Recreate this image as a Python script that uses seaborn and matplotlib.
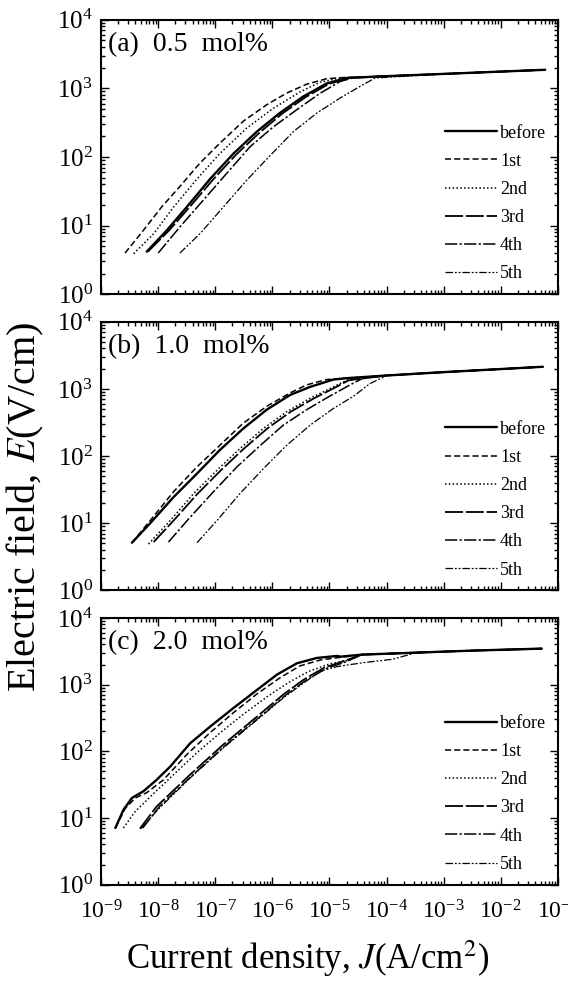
import matplotlib
matplotlib.use("Agg")
import matplotlib.pyplot as plt
import numpy as np
import pandas as pd
import seaborn as sns
from matplotlib.ticker import LogLocator, NullFormatter, LogFormatterSciNotation

runs = ["before", "1st", "2nd", "3rd", "4th", "5th"]
titles = ["(a)  0.5  mol%", "(b)  1.0  mol%", "(c)  2.0  mol%"]

# values, as log10(J) and log10(E)
# panel (a) 0.5 mol%
a_before_logJ = [-8.20, -7.85, -7.50, -7.09, -6.68, -6.27, -5.87, -5.46, -5.05, -4.70]
a_before_logE = [0.62, 0.93, 1.27, 1.68, 2.05, 2.37, 2.64, 2.88, 3.07, 3.15]
a_1st_logJ = [-8.58, -8.26, -7.94, -7.62, -7.27, -6.92, -6.51, -6.10, -5.75, -5.40, -5.05, -4.70]
a_1st_logE = [0.60, 0.93, 1.27, 1.57, 1.91, 2.20, 2.52, 2.76, 2.93, 3.06, 3.14, 3.16]
a_2nd_logJ = [-8.43, -8.08, -7.73, -7.32, -6.92, -6.45, -5.98, -5.51, -5.16, -4.81]
a_2nd_logE = [0.59, 0.88, 1.27, 1.68, 2.05, 2.42, 2.71, 2.95, 3.09, 3.15]
a_3rd_logJ = [-8.18, -7.82, -7.46, -7.05, -6.64, -6.23, -5.83, -5.42, -5.02, -4.66]
a_3rd_logE = [0.62, 0.92, 1.26, 1.66, 2.03, 2.35, 2.63, 2.87, 3.06, 3.15]
a_4th_logJ = [-8.00, -7.62, -7.21, -6.80, -6.39, -5.98, -5.57, -5.16, -4.81, -4.55]
a_4th_logE = [0.60, 0.98, 1.37, 1.76, 2.15, 2.44, 2.69, 2.93, 3.10, 3.16]
a_5th_logJ = [-7.62, -7.27, -6.86, -6.45, -6.04, -5.63, -5.22, -4.81, -4.46, -4.20]
a_5th_logE = [0.60, 0.88, 1.27, 1.66, 2.02, 2.37, 2.64, 2.86, 3.03, 3.15]
a_plateau_logJ = [-4.20, -3.00, -1.22]
a_plateau_logE = [3.17, 3.21, 3.27]

# panel (b) 1.0 mol%
b_before_logJ = [-8.46, -8.14, -7.73, -7.32, -6.92, -6.51, -6.10, -5.69, -5.34, -4.93]
b_before_logE = [0.71, 1.00, 1.39, 1.74, 2.09, 2.41, 2.69, 2.91, 3.03, 3.14]
b_1st_logJ = [-8.46, -8.14, -7.73, -7.32, -6.92, -6.51, -6.10, -5.69, -5.40, -5.05]
b_1st_logE = [0.71, 1.04, 1.47, 1.84, 2.16, 2.49, 2.74, 2.94, 3.06, 3.14]
b_2nd_logJ = [-8.17, -7.79, -7.38, -6.97, -6.57, -6.16, -5.75, -5.34, -4.93, -4.70]
b_2nd_logE = [0.69, 1.04, 1.44, 1.79, 2.11, 2.41, 2.66, 2.86, 3.03, 3.13]
b_3rd_logJ = [-8.08, -7.72, -7.31, -6.90, -6.50, -6.09, -5.68, -5.27, -4.88, -4.66]
b_3rd_logE = [0.72, 1.05, 1.44, 1.79, 2.11, 2.41, 2.66, 2.86, 3.03, 3.13]
b_4th_logJ = [-7.82, -7.44, -7.03, -6.62, -6.21, -5.81, -5.40, -5.00, -4.64, -4.41]
b_4th_logE = [0.72, 1.09, 1.47, 1.84, 2.16, 2.46, 2.69, 2.89, 3.06, 3.16]
b_5th_logJ = [-7.32, -6.97, -6.57, -6.16, -5.75, -5.34, -4.93, -4.58, -4.29, -4.04]
b_5th_logE = [0.71, 1.04, 1.44, 1.81, 2.16, 2.46, 2.71, 2.89, 3.08, 3.18]
b_plateau_logJ = [-4.70, -4.00, -3.00, -1.26]
b_plateau_logE = [3.16, 3.20, 3.25, 3.33]

# panel (c) 2.0 mol%
c_before_logJ = [-8.75, -8.61, -8.46, -8.26, -8.03, -7.79, -7.44, -7.09, -6.68, -6.27, -5.92, -5.57, -5.22, -4.87]
c_before_logE = [0.85, 1.12, 1.30, 1.40, 1.57, 1.77, 2.12, 2.37, 2.65, 2.92, 3.15, 3.32, 3.40, 3.43]
c_1st_logJ = [-8.75, -8.58, -8.40, -8.20, -7.91, -7.50, -7.09, -6.68, -6.27, -5.87, -5.52, -5.16, -4.80]
c_1st_logE = [0.85, 1.14, 1.30, 1.38, 1.57, 1.95, 2.28, 2.58, 2.86, 3.10, 3.28, 3.37, 3.41]
c_2nd_logJ = [-8.61, -8.40, -8.10, -7.73, -7.32, -6.91, -6.50, -6.09, -5.72, -5.36, -5.00, -4.64]
c_2nd_logE = [0.85, 1.10, 1.35, 1.65, 1.98, 2.28, 2.56, 2.82, 3.03, 3.20, 3.31, 3.37]
c_3rd_logJ = [-8.32, -8.03, -7.44, -6.86, -6.27, -5.81, -5.46, -5.10, -4.76]
c_3rd_logE = [0.84, 1.17, 1.65, 2.10, 2.52, 2.85, 3.07, 3.25, 3.35]
c_4th_logJ = [-8.27, -7.98, -7.40, -6.82, -6.23, -5.77, -5.42, -5.06, -4.72]
c_4th_logE = [0.85, 1.17, 1.64, 2.09, 2.51, 2.84, 3.06, 3.24, 3.34]
c_5th_logJ = [-8.30, -8.00, -7.44, -6.86, -6.27, -5.81, -5.46, -5.16, -4.87, -4.40, -3.90]
c_5th_logE = [0.84, 1.13, 1.60, 2.05, 2.47, 2.80, 3.02, 3.20, 3.27, 3.33, 3.38]
c_plateau_logJ = [-4.80, -4.43, -3.47, -2.50, -1.28]
c_plateau_logE = [3.42, 3.45, 3.48, 3.51, 3.54]

panels = {
    "a": ([a_before_logJ, a_1st_logJ, a_2nd_logJ, a_3rd_logJ, a_4th_logJ, a_5th_logJ],
          [a_before_logE, a_1st_logE, a_2nd_logE, a_3rd_logE, a_4th_logE, a_5th_logE],
          a_plateau_logJ, a_plateau_logE),
    "b": ([b_before_logJ, b_1st_logJ, b_2nd_logJ, b_3rd_logJ, b_4th_logJ, b_5th_logJ],
          [b_before_logE, b_1st_logE, b_2nd_logE, b_3rd_logE, b_4th_logE, b_5th_logE],
          b_plateau_logJ, b_plateau_logE),
    "c": ([c_before_logJ, c_1st_logJ, c_2nd_logJ, c_3rd_logJ, c_4th_logJ, c_5th_logJ],
          [c_before_logE, c_1st_logE, c_2nd_logE, c_3rd_logE, c_4th_logE, c_5th_logE],
          c_plateau_logJ, c_plateau_logE),
}

# long-form table: each run follows its own curve and then the shared plateau
rows = []
for key, (js, es, pj, pe) in panels.items():
    for run, lj, le in zip(runs, js, es):
        for x, y in zip(lj, le):
            rows.append((key, run, 10 ** x, 10 ** y))
        for x, y in zip(pj, pe):
            if x > lj[-1]:
                rows.append((key, run, 10 ** x, 10 ** y))
df = pd.DataFrame(rows, columns=["panel", "run", "J", "E"])

line_styles = {
    "before": dict(linestyle="-", linewidth=1.7),
    "1st": dict(linestyle=(0, (4, 2)), linewidth=1.1),
    "2nd": dict(linestyle=(0, (1, 1.5)), linewidth=1.1),
    "3rd": dict(linestyle=(0, (10, 1.5)), linewidth=1.3),
    "4th": dict(linestyle=(0, (8, 1.5, 1.5, 1.5)), linewidth=1.1),
    "5th": dict(linestyle=(0, (6, 1.5, 1.5, 1.5, 1.5, 1.5)), linewidth=0.9),
}

sns.set_style("ticks")
plt.rcParams["font.family"] = ["Liberation Serif", "DejaVu Serif"]
plt.rcParams["mathtext.fontset"] = "stix"
plt.rcParams["axes.unicode_minus"] = False
for k in ["text.color", "axes.labelcolor", "xtick.color", "ytick.color", "axes.edgecolor"]:
    plt.rcParams[k] = "black"

fig = plt.figure(figsize=(5.68, 9.84), dpi=100)
boxes = [(0.178, 0.701, 0.804, 0.279),
         (0.178, 0.400, 0.804, 0.273),
         (0.178, 0.101, 0.804, 0.271)]

for i, (key, box) in enumerate(zip(panels, boxes)):
    ax = fig.add_axes(box)
    sub = df[df["panel"] == key]
    for run in runs:
        d = sub[sub["run"] == run]
        sns.lineplot(data=d, x="J", y="E", ax=ax, color="k", label=run,
                     estimator=None, sort=False, **line_styles[run])
    ax.set_xscale("log")
    ax.set_yscale("log")
    ax.set_xlim(1e-9, 1e-1)
    ax.set_ylim(1, 1e4)
    ax.set_xlabel("")
    ax.set_ylabel("")
    ax.xaxis.set_major_locator(LogLocator(base=10, numticks=20))
    ax.xaxis.set_minor_locator(LogLocator(base=10, subs=np.arange(2, 10), numticks=100))
    ax.yaxis.set_major_locator(LogLocator(base=10, numticks=20))
    ax.yaxis.set_minor_locator(LogLocator(base=10, subs=np.arange(2, 10), numticks=100))
    ax.yaxis.set_major_formatter(LogFormatterSciNotation())
    ax.xaxis.set_minor_formatter(NullFormatter())
    ax.yaxis.set_minor_formatter(NullFormatter())
    if i < 2:
        ax.xaxis.set_major_formatter(NullFormatter())
    ax.tick_params(which="both", direction="in", top=True, right=True, width=1.0)
    ax.tick_params(axis="y", labelsize=18, pad=6)
    ax.tick_params(axis="x", labelsize=17, pad=11)
    ax.tick_params(which="major", length=6)
    ax.tick_params(which="minor", length=3)
    for s in ax.spines.values():
        s.set_linewidth(1.5)
    ax.text(0.015, 0.955, titles[i], transform=ax.transAxes, fontsize=20,
            ha="left", va="top")
    ax.legend(loc="lower right", frameon=False, fontsize=13, handlelength=2.9,
              handletextpad=0.15, labelspacing=0.62, borderaxespad=0.45,
              borderpad=0.2)

fig.text(0.045, 0.485, "Electric field, $E$(V/cm)", rotation=90,
         ha="center", va="center", fontsize=29)
fig.text(0.542, 0.026, "Current density, $J$(A/cm$^2$)",
         ha="center", va="center", fontsize=25)

fig.savefig("out.png", dpi=100)
